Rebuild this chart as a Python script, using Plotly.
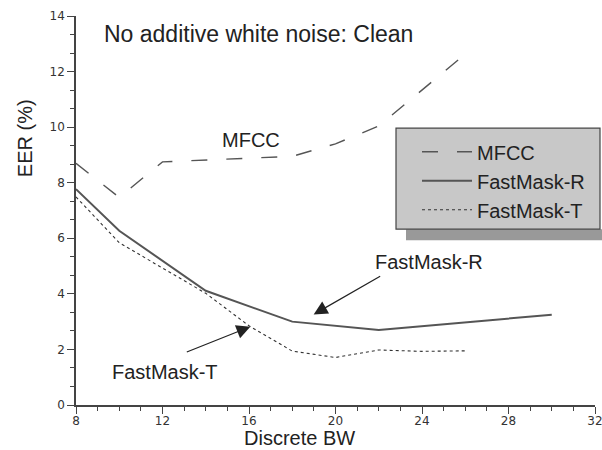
import plotly.graph_objects as go

# Equal error rate (%) versus discrete bandwidth, clean speech (no additive white noise)
bw_mfcc = [8, 10, 12, 14, 18, 20, 22, 26]
eer_mfcc = [8.7, 7.47, 8.75, 8.82, 8.95, 9.4, 10.04, 12.63]

bw_fm_r = [8, 10, 14, 18, 22, 30]
eer_fm_r = [7.77, 6.27, 4.11, 3.0, 2.7, 3.25]

bw_fm_t = [8, 10, 12, 14, 16, 18, 20, 22, 24, 26]
eer_fm_t = [7.49, 5.84, 4.93, 4.02, 2.85, 1.94, 1.71, 1.98, 1.93, 1.95]

x_ticks = [8, 12, 16, 20, 24, 28, 32]
y_ticks = [0, 2, 4, 6, 8, 10, 12, 14]

TEXT_FONT = "Liberation Sans, Arial, sans-serif"
TICK_FONT = "DejaVu Sans, sans-serif"
INK = "#555555"

# plot area in pixels (used to place paper-referenced decorations)
L, R, T, B = 76, 595, 15.7, 405
PW, PH = R - L, B - T


def px(x):
    return (x - L) / PW


def py(y):
    return (B - y) / PH


fig = go.Figure()

fig.add_trace(go.Scatter(
    x=bw_mfcc, y=eer_mfcc, mode="lines", name="MFCC",
    line=dict(color=INK, width=1.4, dash="16px,19px"),
))
fig.add_trace(go.Scatter(
    x=bw_fm_r, y=eer_fm_r, mode="lines", name="FastMask-R",
    line=dict(color=INK, width=2),
))
fig.add_trace(go.Scatter(
    x=bw_fm_t, y=eer_fm_t, mode="lines", name="FastMask-T",
    line=dict(color="#333333", width=1.1, dash="dot"),
))

axis_common = dict(
    showgrid=False, zeroline=False, showline=True, linecolor="#444444",
    linewidth=1.5, ticks="outside", tickcolor="#444444", tickwidth=1.3,
    ticklen=7, tickfont=dict(family=TICK_FONT, size=12, color="#333333"),
    mirror=False, ticklabeloverflow="allow",
)

fig.update_xaxes(
    range=[8, 32], tickvals=x_ticks, ticktext=[str(v) for v in x_ticks],
    minor=dict(tick0=8, dtick=1, ticks="outside", ticklen=4, tickcolor="#444444", tickwidth=1.2),
    ticklabelstandoff=-3,
    **axis_common,
)
fig.update_yaxes(
    range=[0, 14], tickvals=y_ticks, ticktext=[str(v) for v in y_ticks],
    minor=dict(tick0=0, dtick=2 / 3, ticks="outside", ticklen=4, tickcolor="#444444", tickwidth=1.2),
    **axis_common,
)

# legend box with drop shadow
fig.add_shape(type="rect", xref="paper", yref="paper",
              x0=px(406), x1=px(602), y0=py(240), y1=py(229),
              fillcolor="#999999", line=dict(width=0), layer="above")
fig.add_shape(type="rect", xref="paper", yref="paper",
              x0=px(396), x1=px(600), y0=py(229), y1=py(128),
              fillcolor="#c8c8c8", line=dict(color="#444444", width=1.2), layer="above")


def label(text, x, y, size=20, angle=0):
    return dict(text=text, x=px(x), y=py(y), xref="paper", yref="paper",
                xanchor="center", yanchor="middle", showarrow=False, textangle=angle,
                font=dict(family=TEXT_FONT, size=size, color="#222222"))


annotations = [
    label("No additive white noise: Clean", 258, 34, size=23),
    label("EER (%)", 25, 138, angle=-90),
    label("Discrete BW", 299, 438),
    label("MFCC", 250.5, 140),
    label("FastMask-R", 428.7, 262),
    label("FastMask-T", 164.7, 372),
    # pointer arrows
    dict(text="", x=18.99, y=3.26, ax=68, ay=-39, xref="x", yref="y",
         showarrow=True, arrowhead=2, arrowsize=2.3, arrowwidth=1.2, arrowcolor="#222222"),
    dict(text="", x=16.06, y=2.82, ax=-65, ay=26, xref="x", yref="y",
         showarrow=True, arrowhead=2, arrowsize=2.3, arrowwidth=1.2, arrowcolor="#222222"),
]

fig.update_layout(
    width=602, height=450,
    margin=dict(l=L, r=602 - R, t=T, b=450 - B, autoexpand=False),
    paper_bgcolor="white", plot_bgcolor="white",
    annotations=annotations,
    showlegend=True,
    legend=dict(
        x=px(417), y=py(132), xanchor="left", yanchor="top",
        bgcolor="rgba(0,0,0,0)", borderwidth=0,
        font=dict(family=TEXT_FONT, size=20, color="#222222"),
        tracegroupgap=0, itemwidth=50,
    ),
)

fig.write_html("out.html")
